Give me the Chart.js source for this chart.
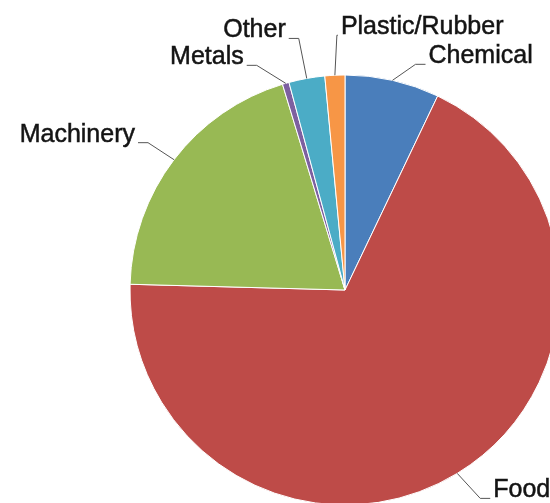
<!DOCTYPE html>
<html lang="en">
<head>
  <meta charset="UTF-8">
  <title>Industry share</title>
  <script src="https://cdn.jsdelivr.net/npm/chart.js"></script>
  <style>
    html, body { margin: 0; padding: 0; background: #fff; overflow: hidden; }
    #pie { display: block; }
  </style>
</head>
<body>
  <canvas id="pie" width="560" height="510"></canvas>

  <script>
    // values (percent)
    const categories = ['Chemical', 'Food', 'Machinery', 'Metals', 'Other', 'Plastic/Rubber'];
    const shares = [7.1, 68.4, 19.9, 0.5, 2.7, 1.5];
    const sliceColors = ['#4a7ebb', '#be4b48', '#98b954', '#7d60a0', '#4bacc6', '#f79646'];

    // leader line elbows, relative to the point on the rim at mid-slice
    const elbowDx = [23, 23, -26, -29, -8, 2];
    const elbowDy = [-16, 25, -17, -18, -40, -40];
    const labelSide = ['right', 'right', 'left', 'left', 'left', 'right'];

    const leaderLabels = {
      id: 'leaderLabels',
      afterDatasetsDraw(chart) {
        const ctx = chart.ctx;
        const arcs = chart.getDatasetMeta(0).data;
        ctx.save();
        ctx.font = '25px "Liberation Sans", Arial, sans-serif';
        ctx.textBaseline = 'alphabetic';
        arcs.forEach((arc, i) => {
          const p = arc.getProps(['x', 'y', 'startAngle', 'endAngle', 'outerRadius'], true);
          const mid = (p.startAngle + p.endAngle) / 2;
          const ax = p.x + Math.cos(mid) * p.outerRadius;
          const ay = p.y + Math.sin(mid) * p.outerRadius;
          const ex = ax + elbowDx[i];
          const ey = ay + elbowDy[i];
          const dir = labelSide[i] === 'right' ? 1 : -1;
          const tail = i === 5 ? 1 : 10;
          const endX = ex + dir * tail;

          ctx.strokeStyle = '#555';
          ctx.lineWidth = 1;
          ctx.beginPath();
          ctx.moveTo(ax, ay);
          ctx.lineTo(ex, ey);
          ctx.lineTo(endX, ey);
          ctx.stroke();

          // slightly heavier text, like the blurred original
          ctx.textAlign = dir === 1 ? 'left' : 'right';
          ctx.fillStyle = '#141414';
          ctx.strokeStyle = '#141414';
          ctx.lineWidth = 0.5;
          ctx.fillText(categories[i], endX + dir * 3, ey - 1);
          ctx.strokeText(categories[i], endX + dir * 3, ey - 1);
        });
        ctx.restore();
      }
    };

    new Chart(document.getElementById('pie'), {
      type: 'pie',
      data: {
        labels: categories,
        datasets: [{
          data: shares,
          backgroundColor: sliceColors,
          borderColor: '#ffffff',
          borderWidth: 1,
          hoverOffset: 0
        }]
      },
      options: {
        responsive: false,
        animation: false,
        radius: 215,
        layout: { padding: { left: 130, right: 0, top: 75, bottom: 5 } },
        plugins: {
          legend: { display: false },
          tooltip: { enabled: false }
        }
      },
      plugins: [leaderLabels]
    });
  </script>
</body>
</html>
